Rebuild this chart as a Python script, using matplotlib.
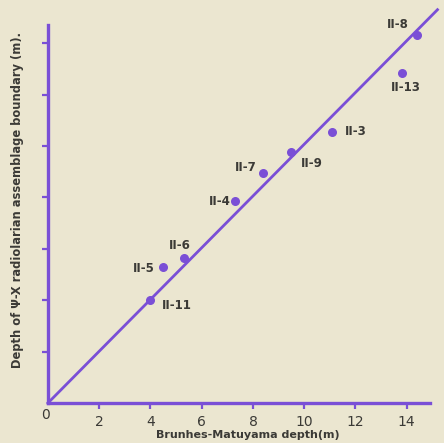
import matplotlib.pyplot as plt

# depths (m)
bm_depth = [4.0, 4.5, 5.3, 7.3, 8.4, 9.5, 11.1, 14.4, 13.8]
psi_depth = [4.0, 5.3, 5.65, 7.85, 8.95, 9.75, 10.55, 14.3, 12.85]
cores = ['II-11', 'II-5', 'II-6', 'II-4', 'II-7', 'II-9', 'II-3', 'II-8', 'II-13']
# label offsets in points
offsets = [(8, -4), (-6, -1), (-3, 9), (-3, 0), (-5, 4), (7, -8), (9, 0), (-6, 8), (3, -11)]
ha_list = ['left', 'right', 'center', 'right', 'right', 'left', 'left', 'right', 'center']
fit_x = [0, 15.2]
fit_y = [0, 15.3]
xticks = [2, 4, 6, 8, 10, 12, 14]
yticks = [2, 4, 6, 8, 10, 12, 14]

purple = '#7a4fd6'
bg = '#ebe6d0'
ink = '#3b3a36'

fig = plt.figure(figsize=(4.44, 4.43), dpi=100, facecolor=bg)
ax = fig.add_axes([0.108, 0.0903, 0.860, 0.853])
ax.set_facecolor(bg)

ax.plot(fit_x, fit_y, color=purple, lw=2.0, clip_on=False, zorder=3)
ax.scatter(bm_depth, psi_depth, s=30, color=purple, zorder=4, clip_on=False)

for x, y, name, off, ha in zip(bm_depth, psi_depth, cores, offsets, ha_list):
    ax.annotate(name, (x, y), xytext=off, textcoords='offset points',
                ha=ha, va='center', fontsize=8.5, fontweight='bold', color=ink)

ax.set_xlim(0, 14.9)
ax.set_ylim(0, 14.7)
for side in ['top', 'right']:
    ax.spines[side].set_visible(False)
for side in ['left', 'bottom']:
    ax.spines[side].set_color(purple)
    ax.spines[side].set_linewidth(2.4)

ax.set_xticks(xticks)
ax.set_yticks(yticks)
ax.set_yticklabels([])
ax.tick_params(axis='both', colors=purple, length=4, width=1.6,
               labelcolor=ink, labelsize=10, pad=5)

ax.annotate('0', (0, 0), xycoords=('data', 'axes fraction'), xytext=(-2, -9),
            textcoords='offset points', ha='center', va='center',
            fontsize=10, color=ink)

ax.set_xlabel('Brunhes-Matuyama depth(m)', fontsize=8.0, color=ink,
              fontweight='bold')
ax.xaxis.set_label_coords(0.524, -0.072)
ax.set_ylabel('Depth of Ψ-X radiolarian assemblage boundary (m).', fontsize=8.3,
              color=ink, fontweight='bold')
ax.yaxis.set_label_coords(-0.062, 0.537)

fig.savefig('out.png', dpi=100, facecolor=bg)
